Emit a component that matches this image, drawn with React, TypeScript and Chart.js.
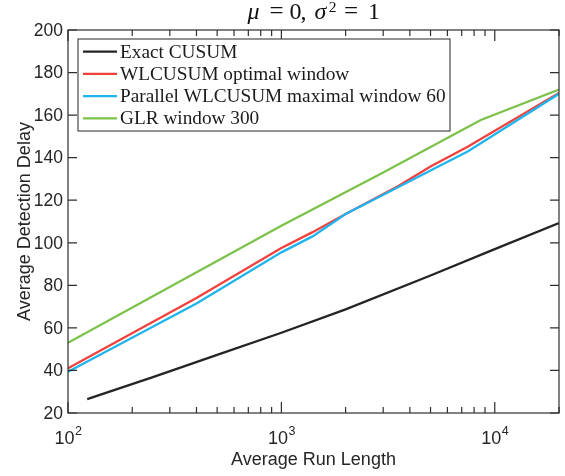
import { useEffect, useRef } from 'react';
import { Chart, registerables } from 'chart.js';

Chart.register(...registerables);

// ---- data ----
const seriesLabels = [
  'Exact CUSUM',
  'WLCUSUM optimal window',
  'Parallel WLCUSUM maximal window 60',
  'GLR window 300',
];
const seriesColors = ['#242424', '#f0413c', '#1fb4ee', '#7cc24a'];

const cusumARL = [123, 250, 500, 1000, 2000, 5000, 10000, 20000];
const cusumADD = [26.5, 36.9, 47.3, 57.7, 68.7, 84.6, 97, 109.3];

const wlcusumARL = [100, 400, 1000, 1400, 2000, 3500, 5000, 7500, 20000];
const wlcusumADD = [41, 74, 97.5, 105, 113.5, 126.5, 135.8, 145.3, 170.4];

const parallelARL = [100, 400, 1000, 1400, 2000, 3500, 5000, 7500, 20000];
const parallelADD = [39.4, 71.5, 95.5, 103, 113.5, 126, 134, 143, 170];

const glrARL = [100, 1000, 3000, 8600, 20000];
const glrADD = [53, 108, 133, 157.7, 172];

const xMin = 100;
const xMax = 20000;
const xDecades = [100, 1000, 10000];
const yMin = 20;
const yMax = 200;
const yTickValues = [20, 40, 60, 80, 100, 120, 140, 160, 180, 200];

const xTitle = 'Average Run Length';
const yTitle = 'Average Detection Delay';

const AXIS = '#2e2e2e';
const SANS = '"Liberation Sans", Arial, sans-serif';
const SERIF = '"Liberation Serif", "Times New Roman", serif';

const pts = (xs: number[], ys: number[]) => xs.map((x, i) => ({ x, y: ys[i] }));

const framePlugin = {
  id: 'frame',
  afterDatasetsDraw(chart: any) {
    const { ctx, chartArea: a, scales } = chart;
    const xs = scales.x;
    const ys = scales.y;
    ctx.save();
    ctx.strokeStyle = AXIS;
    ctx.lineWidth = 1.2;
    ctx.strokeRect(a.left, a.top, a.right - a.left, a.bottom - a.top);

    // y ticks (inward, both sides)
    const yTL = 9;
    ctx.beginPath();
    for (const v of yTickValues) {
      const y = ys.getPixelForValue(v);
      ctx.moveTo(a.left, y);
      ctx.lineTo(a.left + yTL, y);
      ctx.moveTo(a.right, y);
      ctx.lineTo(a.right - yTL, y);
    }
    // x ticks (log major + minor, inward, top and bottom)
    for (const d of xDecades) {
      for (let m = 1; m <= 9; m++) {
        const v = m * d;
        if (v < xMin - 1e-9 || v > xMax + 1e-9) continue;
        const x = xs.getPixelForValue(v);
        const len = m === 1 ? 11 : 6;
        ctx.moveTo(x, a.bottom);
        ctx.lineTo(x, a.bottom - len);
        ctx.moveTo(x, a.top);
        ctx.lineTo(x, a.top + len);
      }
    }
    ctx.stroke();

    // y tick labels
    ctx.fillStyle = '#262626';
    ctx.font = `17.5px ${SANS}`;
    ctx.textAlign = 'right';
    ctx.textBaseline = 'middle';
    for (const v of yTickValues) {
      ctx.fillText(String(v), a.left - 5, ys.getPixelForValue(v) + 1);
    }

    // x tick labels 10^n
    ctx.textBaseline = 'alphabetic';
    ctx.textAlign = 'left';
    for (const d of xDecades) {
      const x = xs.getPixelForValue(d);
      const exp = String(Math.round(Math.log10(d)));
      ctx.font = `18px ${SANS}`;
      const w1 = ctx.measureText('10').width;
      ctx.font = `12.5px ${SANS}`;
      const w2 = ctx.measureText(exp).width;
      const start = x - (w1 + w2) / 2;
      ctx.font = `18px ${SANS}`;
      ctx.fillText('10', start, 444);
      ctx.font = `12.5px ${SANS}`;
      ctx.fillText(exp, start + w1 + 0.5, 435);
    }

    // axis titles
    ctx.font = `18px ${SANS}`;
    ctx.textAlign = 'center';
    ctx.fillText(xTitle, (a.left + a.right) / 2, 465);
    ctx.save();
    ctx.translate(30, (a.top + a.bottom) / 2);
    ctx.rotate(-Math.PI / 2);
    ctx.fillText(yTitle, 0, 0);
    ctx.restore();

    // title: mu = 0, sigma^2 = 1
    const cx = (a.left + a.right) / 2;
    const base = 18.5;
    ctx.fillStyle = '#111';
    ctx.textAlign = 'center';
    const pieces: [string, string, number, number][] = [
      ['μ', `italic 24px ${SERIF}`, -60, base],
      ['=', `25px ${SERIF}`, -37, base],
      ['0', `24px ${SERIF}`, -18, base],
      [',', `24px ${SERIF}`, -10, base],
      ['σ', `italic 24px ${SERIF}`, 7, base],
      ['2', `15.5px ${SERIF}`, 19, 11.5],
      ['=', `25px ${SERIF}`, 37.5, base],
      ['1', `24px ${SERIF}`, 60.5, base],
    ];
    for (const [t, f, dx, by] of pieces) {
      ctx.font = f;
      ctx.fillText(t, cx + dx, by);
    }

    // legend
    const lx = 78, ly = 39, lw = 372, lh = 92;
    ctx.fillStyle = '#ffffff';
    ctx.fillRect(lx, ly, lw, lh);
    ctx.strokeStyle = '#3a3a3a';
    ctx.lineWidth = 1.1;
    ctx.strokeRect(lx, ly, lw, lh);
    ctx.textAlign = 'left';
    ctx.font = `19.3px ${SERIF}`;
    chart.data.datasets.forEach((ds: any, i: number) => {
      const y = 51.7 + i * 22.2;
      ctx.strokeStyle = ds.borderColor;
      ctx.lineWidth = 2.3;
      ctx.beginPath();
      ctx.moveTo(83, y);
      ctx.lineTo(117, y);
      ctx.stroke();
      ctx.fillStyle = '#1a1a1a';
      ctx.fillText(ds.label, 120, y + 6);
    });
    ctx.restore();
  },
};

export default function App() {
  const ref = useRef<HTMLCanvasElement | null>(null);
  useEffect(() => {
    const canvas = ref.current;
    if (!canvas) return;
    const sets = [
      pts(cusumARL, cusumADD),
      pts(wlcusumARL, wlcusumADD),
      pts(parallelARL, parallelADD),
      pts(glrARL, glrADD),
    ];
    const chart = new Chart(canvas, {
      type: 'line',
      data: {
        datasets: sets.map((d, i) => ({
          label: seriesLabels[i],
          data: d,
          borderColor: seriesColors[i],
          backgroundColor: seriesColors[i],
          borderWidth: 2.3,
          pointRadius: 0,
          tension: 0,
          fill: false,
          order: 4 - i,
        })),
      },
      options: {
        animation: false,
        responsive: false,
        devicePixelRatio: 1,
        layout: { padding: { top: 30, right: 6, left: 0, bottom: 0 } },
        plugins: { legend: { display: false }, tooltip: { enabled: false }, title: { display: false } },
        scales: {
          x: {
            type: 'logarithmic',
            min: xMin,
            max: xMax,
            grid: { display: false },
            border: { display: false },
            ticks: { display: false },
            afterFit: (s: any) => { s.height = 63; },
          },
          y: {
            type: 'linear',
            min: yMin,
            max: yMax,
            grid: { display: false },
            border: { display: false },
            ticks: { display: false, stepSize: 20 },
            afterFit: (s: any) => { s.width = 68; },
          },
        },
      },
      plugins: [framePlugin],
    });
    return () => chart.destroy();
  }, []);
  return (
    <div style={{ position: 'fixed', left: 0, top: 0, width: 565, height: 476, background: '#fff' }}>
      <canvas ref={ref} width={565} height={476} style={{ width: 565, height: 476, display: 'block' }} />
    </div>
  );
}
